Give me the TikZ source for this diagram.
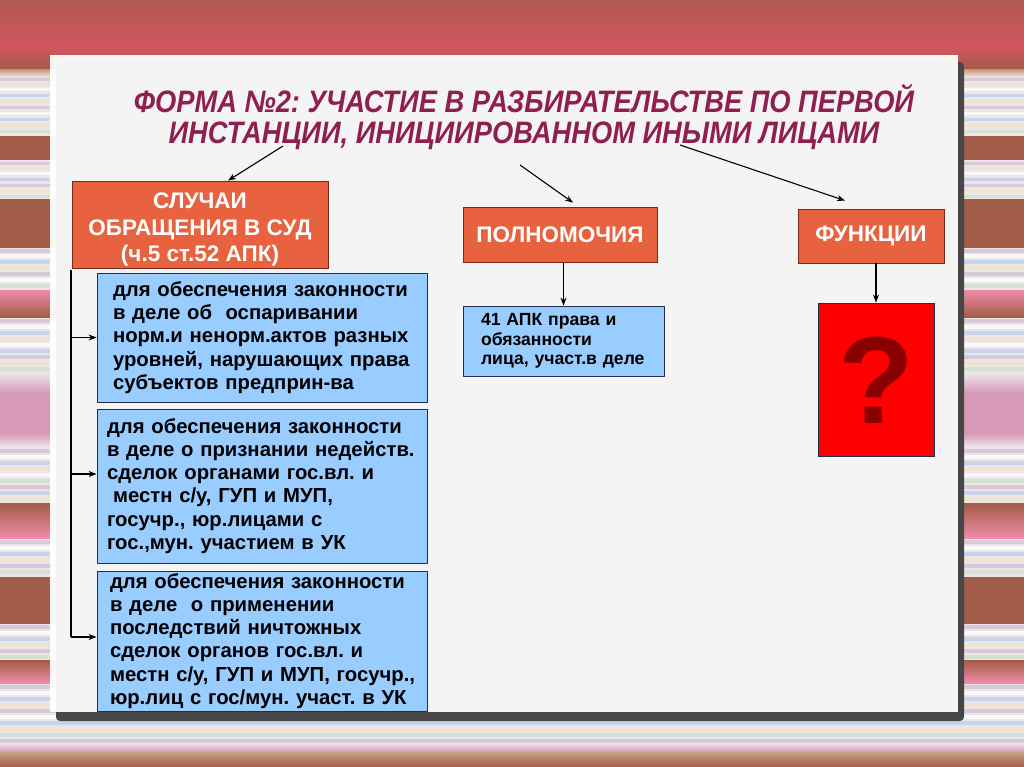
\documentclass[tikz,border=0pt]{standalone}
\usepackage{fontspec}
\setmainfont{Liberation Sans}
\newfontfamily\narrowfont[FakeStretch=0.88]{Liberation Sans}
\usetikzlibrary{arrows.meta}
\frenchspacing
\definecolor{bgred}{HTML}{D25560}
\definecolor{bgbrown}{HTML}{A25C48}
\definecolor{bgpink}{HTML}{F08CA8}
\definecolor{bgbright}{HTML}{E8506A}
\definecolor{bgtan}{HTML}{C8A080}
\definecolor{bglilac}{HTML}{D898B8}
\definecolor{bglight}{HTML}{ECE6EA}
\definecolor{lv}{HTML}{D8C8D8}
\definecolor{cr}{HTML}{F0E4D0}
\definecolor{lb}{HTML}{C8D4EC}
\definecolor{lg}{HTML}{D4E2D4}
\definecolor{wh}{HTML}{FAF8F8}
\definecolor{orangebox}{HTML}{E8623F}
\definecolor{orangeedge}{HTML}{7A2A1A}
\definecolor{bluebox}{HTML}{99CCFF}
\definecolor{blueedge}{HTML}{1F2F4F}
\definecolor{titlecol}{HTML}{8E1F4E}
\definecolor{qmark}{HTML}{8A0000}
\newcommand\mystripe[5]{\shade[top color=#3, middle color=#4, bottom color=#5] (0,#1) rectangle (1024,#2);}
\newcommand\bxl[2][0pt]{\hspace*{#1}\mbox{#2}}
\begin{document}
\frenchspacing
\begin{tikzpicture}[x=1pt,y=-1pt,
  obox/.style={draw=orangeedge, line width=0.8pt, fill=orangebox, text=white, font=\bfseries\fontsize{22.5}{26}\selectfont, align=center, inner sep=0pt},
  otext/.style={text=white, font=\bfseries\fontsize{22.5}{26.5}\selectfont, align=center, inner sep=0pt},
  bbox/.style={draw=blueedge, line width=0.8pt, fill=bluebox, text=black, font=\bfseries\fontsize{20.3}{23.2}\selectfont, align=left, inner ysep=0pt, inner xsep=2pt},
  arr/.style={black, line width=1.1pt, -{Stealth[length=8pt,width=6pt]}},
  conn/.style={black, line width=1.1pt}]
\useasboundingbox (0,0) rectangle (1024,767);
% ---------- striped background ----------
\fill[bglight] (0,0) rectangle (1024,767);
\foreach \y/\c in {78/lv,83/cr,88/wh,94/lb,100/cr,106/lv,112/wh,118/lb,124/cr,130/lg,
  162/lv,167/cr,172/wh,178/lb,184/lv,190/cr,195/lg,
  249/lv,254/wh,260/lb,266/cr,272/lv,278/wh,284/lg,
  319/lv,325/wh,331/lb,337/cr,343/wh,349/lb,355/lv,361/cr,367/lg,
  449/lv,455/wh,461/lb,467/cr,473/wh,479/lg,485/lv,491/lb,497/cr,
  540/lv,546/wh,552/lb,558/cr,564/lv,570/lg,
  625/lv,631/wh,637/lb,643/cr,649/lv,655/lg,
  685/lv,691/wh,697/lb,703/cr,709/lv,715/wh,721/lb,727/cr,733/lg,739/lv}
  {\fill[\c] (0,\y) rectangle (1024,\y+3.5);}
\mystripe{0}{46}{bgbrown!70!bgred}{bgred}{bgred}
\mystripe{46}{70}{bgred}{bgred!50!bgbrown}{bgbrown}
\mystripe{70}{77}{bgtan}{bgtan}{bglight}
\mystripe{137}{160}{bgbrown}{bgpink}{bgbrown}
\mystripe{200}{247}{bgbrown}{bgbright}{bgbrown}
\mystripe{290}{317}{bgpink}{bgbright}{bgbrown}
\mystripe{373}{393}{bglight}{bgtan}{bglilac}
\mystripe{393}{433}{bglilac}{bglilac}{bglilac}
\mystripe{433}{447}{bglilac}{bgtan}{bglight}
\mystripe{503}{538}{bgbrown}{bgbright}{bgpink}
\mystripe{577}{623}{bgbrown}{bgbright}{bgbrown}
\mystripe{660}{683}{bgbrown}{bgbright}{bgpink}
\mystripe{743}{752}{bglight}{bglilac}{bglilac}
\mystripe{752}{767}{bgtan}{bgbrown}{bgbrown}
% ---------- panel ----------
\fill[black!72, rounded corners=4pt] (56,62) rectangle (964,721);
\fill[white, fill opacity=0.94] (50,55) rectangle (958,712);
% ---------- title ----------
\node[text=titlecol, font=\narrowfont\bfseries\itshape\fontsize{31}{31}\selectfont, align=center] (title) at (524,117)
  {ФОРМА №2: УЧАСТИЕ В РАЗБИРАТЕЛЬСТВЕ ПО ПЕРВОЙ\\ИНСТАНЦИИ, ИНИЦИИРОВАННОМ ИНЫМИ ЛИЦАМИ};
\coordinate (t1) at (283,146);
\coordinate (t2) at (520,165);
\coordinate (t3) at (680,145);
% ---------- top boxes ----------
\node[obox, minimum width=256pt, minimum height=87pt] (cases) at (200,224.5) {};
\node[otext] (casestext) at ([yshift=-5pt]cases.center)
  {СЛУЧАИ\\ОБРАЩЕНИЯ В СУД\\(ч.5 ст.52 АПК)};
\node[obox, minimum width=194pt, minimum height=55pt] (pol) at (560,234.5) {ПОЛНОМОЧИЯ};
\node[obox, minimum width=146pt, minimum height=54pt] (fun) at (871,236) {ФУНКЦИИ};
% ---------- blue boxes ----------
\node[bbox, minimum width=330pt, minimum height=129pt, text width=326pt] (b1) at (262,337.5)
  {\bxl[14pt]{для обеспечения законности}\\\bxl[14pt]{в деле об\ \ оспаривании}\\\bxl[14pt]{норм.и ненорм.актов разных}\\\bxl[14pt]{уровней, нарушающих права}\\\bxl[14pt]{субъектов предприн-ва}};
\node[bbox, minimum width=330pt, minimum height=154pt, text width=326pt] (b2) at (262,486)
  {\bxl[8pt]{для обеспечения законности}\\\bxl[8pt]{в деле о признании недейств.}\\\bxl[8pt]{сделок органами гос.вл. и}\\\bxl[14pt]{местн с/у, ГУП и МУП,}\\\bxl[8pt]{госучр., юр.лицами с}\\\bxl[8pt]{гос.,мун. участием в УК}};
\node[bbox, minimum width=330pt, minimum height=140pt, text width=326pt] (b3) at (262,641)
  {\bxl[11pt]{для обеспечения законности}\\\bxl[11pt]{в деле\ \ о применении}\\\bxl[11pt]{последствий ничтожных}\\\bxl[11pt]{сделок органов гос.вл. и}\\\bxl[11pt]{местн с/у, ГУП и МУП, госучр.,}\\\bxl[11pt]{юр.лиц с гос/мун. участ. в УК}};
\node[bbox, font=\bfseries\fontsize{17.6}{19.6}\selectfont, minimum width=201pt, minimum height=70pt, text width=197pt] (p1) at (563.5,341)
  {\bxl[16pt]{41 АПК права и}\\\bxl[16pt]{обязанности}\\\bxl[16pt]{лица, участ.в деле}};
\node[draw=blueedge, line width=0.8pt, fill=red, minimum width=116pt, minimum height=153pt, inner sep=0pt] (q) at (876,379.5) {};
\node[text=qmark, font=\bfseries\fontsize{124}{124}\selectfont, inner sep=0pt] (qm) at (876,380) {?};
% ---------- connectors ----------
\draw[arr] (t1) -- ([xshift=28pt]cases.north);
\draw[arr] (t2) -- ([xshift=13pt,yshift=4pt]pol.north);
\draw[arr] (t3) -- ([xshift=-26pt,yshift=8pt]fun.north);
\draw[arr] (pol.south -| p1.north) -- (p1.north);
\draw[arr] (fun.south -| q.north) -- (q.north);
\coordinate (brtop) at (71,270);
\coordinate (brbot) at (71,637);
\draw[conn] (brtop) -- (brbot);
\draw[arr] (b1.west -| brtop) -- (b1.west);
\draw[arr] ([yshift=12pt]b2.west -| brtop) -- ([yshift=12pt]b2.west);
\draw[arr] (brbot) -- ([yshift=4pt]b3.west);
\end{tikzpicture}
\end{document}
